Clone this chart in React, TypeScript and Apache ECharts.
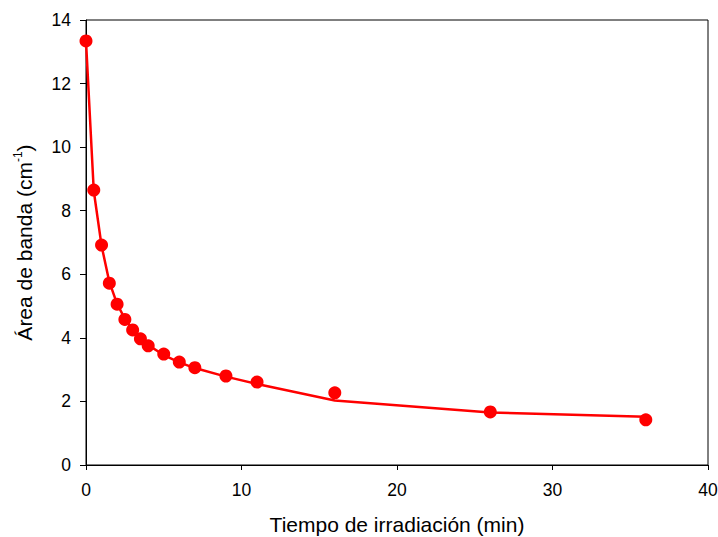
import React, { useEffect, useRef } from "react";
import * as echarts from "echarts";

const timeMin = [0, 0.5, 1, 1.5, 2, 2.5, 3, 3.5, 4, 5, 6, 7, 9, 11, 16, 26, 36];
const bandArea = [13.34, 8.65, 6.92, 5.72, 5.06, 4.58, 4.25, 3.97, 3.75, 3.49, 3.24, 3.06, 2.8, 2.61, 2.27, 1.67, 1.42];
const fitArea = [13.34, 8.62, 6.9, 5.76, 5.07, 4.6, 4.26, 3.99, 3.77, 3.46, 3.23, 3.05, 2.78, 2.55, 2.03, 1.65, 1.52];
const xTicks = [0, 10, 20, 30, 40];
const yTicks = [0, 2, 4, 6, 8, 10, 12, 14];

export default function App() {
  const ref = useRef<HTMLDivElement>(null);
  useEffect(() => {
    if (!ref.current) return;
    const chart = echarts.init(ref.current, undefined, { renderer: "svg" });
    const font = "'Liberation Sans', Arial, sans-serif";
    chart.setOption({
      animation: false,
      backgroundColor: "#ffffff",
      grid: {
        left: 86,
        right: 10,
        top: 20,
        bottom: 72,
        outerBoundsMode: "none",
        containLabel: false,
        show: true,
        borderColor: "#000",
        borderWidth: 1,
        backgroundColor: "transparent",
      },
      xAxis: {
        type: "value",
        min: xTicks[0],
        max: xTicks[xTicks.length - 1],
        interval: 10,
        name: "Tiempo de irradiación (min)",
        nameLocation: "middle",
        nameGap: 49,
        nameTextStyle: { fontFamily: font, fontSize: 21, color: "#000" },
        axisLine: { show: true, lineStyle: { color: "#000", width: 1 } },
        axisTick: { show: true, inside: false, length: 5, lineStyle: { color: "#000" } },
        axisLabel: { fontFamily: font, fontSize: 17.5, color: "#000", margin: 16 },
        splitLine: { show: false },
      },
      yAxis: {
        type: "value",
        min: yTicks[0],
        max: yTicks[yTicks.length - 1],
        interval: 2,
        name: "Área de banda (cm{sup|-1})",
        nameLocation: "middle",
        nameGap: 50,
        nameRotate: 90,
        nameTextStyle: {
          fontFamily: font,
          fontSize: 21,
          color: "#000",
          rich: {
            sup: { fontFamily: font, fontSize: 12, color: "#000", verticalAlign: "top", padding: [0, 0, 12, 0] },
          },
        },
        axisLine: { show: true, lineStyle: { color: "#000", width: 1 } },
        axisTick: { show: true, inside: false, length: 6, lineStyle: { color: "#000" } },
        axisLabel: { fontFamily: font, fontSize: 17.5, color: "#000", margin: 15 },
        splitLine: { show: false },
      },
      series: [
        {
          type: "line",
          data: timeMin.map((t, i) => [t, fitArea[i]]),
          showSymbol: false,
          symbol: "none",
          lineStyle: { color: "#ff0000", width: 2.5 },
          z: 2,
        },
        {
          type: "scatter",
          data: timeMin.map((t, i) => [t, bandArea[i]]),
          symbol: "circle",
          symbolSize: 13,
          itemStyle: { color: "#ff0000", opacity: 1 },
          z: 3,
        },
      ],
    });
    return () => chart.dispose();
  }, []);
  return <div ref={ref} style={{ width: 718, height: 537, position: "absolute", left: 0, top: 0 }} />;
}
